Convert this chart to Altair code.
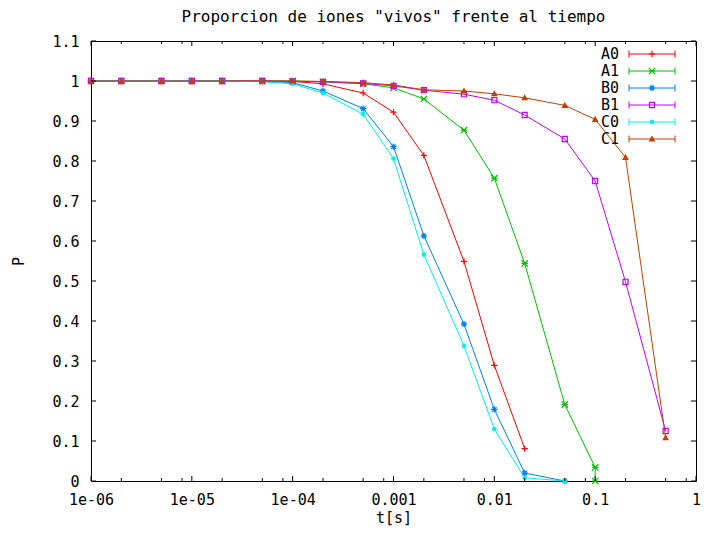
import altair as alt
import pandas as pd

# ---------------- data ----------------
t = [1e-6, 2e-6, 5e-6, 1e-5, 2e-5, 5e-5, 1e-4, 2e-4, 5e-4, 1e-3, 2e-3, 5e-3,
     1e-2, 2e-2, 5e-2, 0.1, 0.2, 0.5]

series_names = ["A0", "A1", "B0", "B1", "C0", "C1"]

A0 = [1, 1, 1, 1, 1, 1, 0.999, 0.993, 0.970, 0.922, 0.814, 0.549, 0.289, 0.081,
      None, None, None, None]
A1 = [1, 1, 1, 1, 1, 1, 1, 0.998, 0.993, 0.983, 0.955, 0.877, 0.757, 0.544,
      0.191, 0.034, None, None]
A1_tail_t = [0.1]
A1_tail_p = [0.0]
B0 = [1, 1, 1, 1, 1, 0.999, 0.996, 0.975, 0.931, 0.836, 0.613, 0.392, 0.179,
      0.020, 0.0, None, None, None]
B1 = [1, 1, 1, 1, 1, 1, 0.999, 0.998, 0.994, 0.988, 0.977, 0.967, 0.952, 0.915,
      0.855, 0.750, 0.498, 0.125]
C0 = [1, 1, 1, 1, 1, 0.998, 0.993, 0.970, 0.917, 0.806, 0.566, 0.338, 0.130,
      0.008, 0.0, None, None, None]
C1 = [1, 1, 1, 1, 1, 1, 1, 0.999, 0.996, 0.990, 0.978, 0.975, 0.968, 0.958,
      0.939, 0.904, 0.809, 0.108]

x_major_ticks = [1e-6, 1e-5, 1e-4, 1e-3, 1e-2, 1e-1, 1]
x_tick_labels = ["1e-06", "1e-05", "1e-04", "0.001", "0.01", "0.1", "1"]
x_minor_ticks = [m * d for d in [1e-6, 1e-5, 1e-4, 1e-3, 1e-2, 1e-1] for m in (2, 5, 8)]
y_ticks = [0, 0.1, 0.2, 0.3, 0.4, 0.5, 0.6, 0.7, 0.8, 0.9, 1.0, 1.1]

title_text = 'Proporcion de iones "vivos" frente al tiempo'

# ---------------- styles ----------------
colors = ["#ff0000", "#00c000", "#0080ff", "#c000ff", "#00eeee", "#c04000"]
fills = ["transparent", "transparent", "transparent", "transparent", "#00eeee", "#c04000"]
shapes = [
    "M-1,0L1,0M0,-1L0,1",
    "M-1,-1L1,1M-1,1L1,-1M-1,0L1,0",
    "M-1,0L1,0M0,-1L0,1M-0.7,-0.7L0.7,0.7M-0.7,0.7L0.7,-0.7",
    "M-0.8,-0.8L0.8,-0.8L0.8,0.8L-0.8,0.8Z",
    "M-0.55,0A0.55,0.55,0,1,1,0.55,0A0.55,0.55,0,1,1,-0.55,0Z",
    "M0,-0.75L0.75,0.6L-0.75,0.6Z",
]
FONT = "DejaVu Sans Mono"
W, H = 605, 440

rows = []
for name, vals in zip(series_names, [A0, A1, B0, B1, C0, C1]):
    i = 0
    for tt, p in zip(t, vals):
        if p is not None:
            rows.append({"series": name, "t": tt, "p": p, "idx": i})
            i += 1
    if name == "A1":
        for tt, p in zip(A1_tail_t, A1_tail_p):
            rows.append({"series": name, "t": tt, "p": p, "idx": i})
            i += 1
df = pd.DataFrame(rows)

xscale = alt.Scale(type="log", domain=[1e-6, 1], nice=False)
yscale = alt.Scale(domain=[0, 1.1], nice=False, zero=False)
label_arr = "[" + ",".join("'" + s + "'" for s in x_tick_labels) + "]"
x_axis = alt.Axis(values=x_major_ticks, labelExpr=label_arr + "[round(log(datum.value)/LN10)+6]",
                  tickSize=0, domain=False, grid=False, labelFont=FONT, labelFontSize=15,
                  labelColor="black", labelPadding=11, title="t[s]", titleFont=FONT,
                  titleFontSize=15, titleFontWeight="normal", titlePadding=3,
                  labelFlush=False, labelOverlap=False)
y_axis = alt.Axis(values=y_ticks, format=".1~f", tickSize=0, domain=False, grid=False,
                  labelFont=FONT, labelFontSize=15, labelColor="black", labelPadding=12,
                  title="P", titleFont=FONT, titleFontSize=15, titleFontWeight="normal",
                  titlePadding=25, labelOverlap=False)

color_scale = alt.Scale(domain=series_names, range=colors)
fill_scale = alt.Scale(domain=series_names, range=fills)
shape_scale = alt.Scale(domain=series_names, range=shapes)

base = alt.Chart(df)
lines = base.mark_line(strokeWidth=1).encode(
    x=alt.X("t:Q", scale=xscale, axis=x_axis),
    y=alt.Y("p:Q", scale=yscale, axis=y_axis),
    color=alt.Color("series:N", scale=color_scale, legend=None),
    order=alt.Order("idx:Q"),
)
points = base.mark_point(filled=False, strokeWidth=1.2, size=40, opacity=1).encode(
    x=alt.X("t:Q", scale=xscale, axis=x_axis),
    y=alt.Y("p:Q", scale=yscale, axis=y_axis),
    stroke=alt.Stroke("series:N", scale=color_scale, legend=None),
    fill=alt.Fill("series:N", scale=fill_scale, legend=None),
    shape=alt.Shape("series:N", scale=shape_scale, legend=None),
)

xmaj = alt.Chart(pd.DataFrame({"v": x_major_ticks}))
xmin = alt.Chart(pd.DataFrame({"v": x_minor_ticks}))
ydf = alt.Chart(pd.DataFrame({"v": y_ticks}))
tick_style = dict(color="black", strokeWidth=1)
xenc = alt.X("v:Q", scale=xscale, axis=x_axis)
yenc = alt.Y("v:Q", scale=yscale, axis=y_axis)
tick_layers = [
    xmaj.mark_rule(**tick_style).encode(x=xenc, y=alt.value(H), y2=alt.value(H - 5)),
    xmaj.mark_rule(**tick_style).encode(x=xenc, y=alt.value(0), y2=alt.value(5)),
    xmin.mark_rule(**tick_style).encode(x=xenc, y=alt.value(H), y2=alt.value(H - 3)),
    xmin.mark_rule(**tick_style).encode(x=xenc, y=alt.value(0), y2=alt.value(3)),
    ydf.mark_rule(**tick_style).encode(y=yenc, x=alt.value(0), x2=alt.value(5)),
    ydf.mark_rule(**tick_style).encode(y=yenc, x=alt.value(W), x2=alt.value(W - 5)),
]

main = alt.layer(lines, points, *tick_layers)

# ---------------- gnuplot style key ----------------
leg_df = pd.DataFrame({"series": series_names})
leg_y = alt.Y("series:N", scale=alt.Scale(type="point", domain=series_names, range=[13, 98], padding=0), axis=None)
lb = alt.Chart(leg_df)
leg_lines = lb.mark_rule(strokeWidth=1).encode(
    x=alt.value(W - 67), x2=alt.value(W - 21), y=leg_y,
    color=alt.Color("series:N", scale=color_scale, legend=None))
leg_caps = [
    lb.mark_point(filled=False, shape="M0,-1L0,1", size=49, strokeWidth=1, opacity=1).encode(
        x=alt.value(xv), y=leg_y,
        stroke=alt.Stroke("series:N", scale=color_scale, legend=None))
    for xv in (W - 67, W - 21)
]
leg_marks = lb.mark_point(filled=False, strokeWidth=1.2, size=40, opacity=1).encode(
    x=alt.value(W - 44), y=leg_y,
    stroke=alt.Stroke("series:N", scale=color_scale, legend=None),
    fill=alt.Fill("series:N", scale=fill_scale, legend=None),
    shape=alt.Shape("series:N", scale=shape_scale, legend=None))
leg_text = lb.mark_text(align="right", baseline="middle", font=FONT, fontSize=15, color="black").encode(
    x=alt.value(W - 77), y=leg_y, text="series:N")
legend = alt.layer(leg_lines, *leg_caps, leg_marks, leg_text)

chart = alt.layer(main, legend).resolve_scale(y="independent").properties(
    width=W, height=H,
    title=alt.TitleParams(title_text, font=FONT, fontSize=16, fontWeight="normal",
                          color="black", anchor="middle", offset=9),
    padding={"left": 83, "top": 33, "right": 9, "bottom": 49},
    autosize=alt.AutoSizeParams(type="none"),
    background="white",
).configure_view(stroke="black", strokeWidth=1)

chart.save("out.html", embed_options={"renderer": "svg", "actions": False})
